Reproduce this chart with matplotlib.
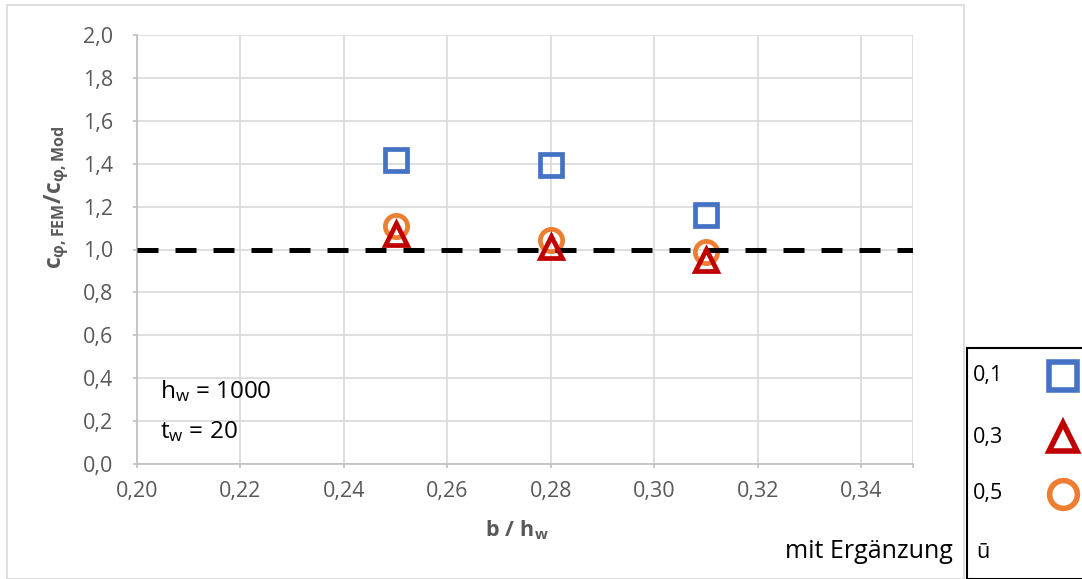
import matplotlib
matplotlib.use("Agg")
import matplotlib.pyplot as plt
from matplotlib.patches import Rectangle
from matplotlib.lines import Line2D

plt.rcParams['font.family'] = ['Open Sans', 'DejaVu Sans']
plt.rcParams['mathtext.fontset'] = 'custom'
plt.rcParams['mathtext.rm'] = 'Open Sans'
plt.rcParams['mathtext.bf'] = 'Open Sans:bold'
plt.rcParams['mathtext.it'] = 'Open Sans:italic'

# data
b_hw = [0.25, 0.28, 0.31]
u01 = [1.415, 1.393, 1.160]
u03 = [1.070, 1.012, 0.950]
u05 = [1.108, 1.045, 0.988]
legend_labels = ["0,1", "0,3", "0,5"]
xticks = [0.20, 0.22, 0.24, 0.26, 0.28, 0.30, 0.32, 0.34]
yticks = [0.0, 0.2, 0.4, 0.6, 0.8, 1.0, 1.2, 1.4, 1.6, 1.8, 2.0]

blue = '#4472C4'
red = '#C00000'
orange = '#ED7D31'
grey_txt = '#595959'

W, H = 1082, 579
fig = plt.figure(figsize=(W/100, H/100), dpi=100)

# outer chart border
fig.patches.append(Rectangle((7/W, 0), (964-7)/W, (H-5)/H, transform=fig.transFigure,
                             fill=False, edgecolor='#d9d9d9', linewidth=1.2))

ax = fig.add_axes([137/W, 1-464/H, (913-137)/W, (464-35)/H])
ax.set_xlim(0.20, 0.35)
ax.set_ylim(0.0, 2.0)
ax.set_xticks(xticks + [0.35])
ax.set_xticklabels([f"{v:.2f}".replace('.', ',') for v in xticks] + [''])
ax.set_yticks(yticks)
ax.set_yticklabels([f"{v:.1f}".replace('.', ',') for v in yticks])
ax.grid(True, color='#d9d9d9', linewidth=1.2)
ax.set_axisbelow(True)
for s in ['top', 'right']:
    ax.spines[s].set_visible(False)
for s in ['left', 'bottom']:
    ax.spines[s].set_color('#bfbfbf')
    ax.spines[s].set_linewidth(1.2)
ax.tick_params(axis='both', colors='#bfbfbf', labelcolor=grey_txt, labelsize=15.5,
               length=3, width=1.2)
ax.tick_params(axis='x', pad=9)
ax.tick_params(axis='y', pad=14)

fig.text(517/W, 1-530/H, r'$\mathbf{b\ /\ h_w}$', color=grey_txt, fontsize=15.5,
         ha='center', va='center')
fig.text(57/W, 1-197/H, r'$\mathbf{c_{\varphi,FEM}/c_{\varphi,Mod}}$', color=grey_txt, fontsize=16.5,
         rotation=90, ha='center', va='center')

ax.axhline(1.0, color='black', linewidth=3.6, linestyle=(0, (4.2, 3.4)), zorder=3)

ms = 16
mew = 3.4
ax.plot(b_hw, u01, linestyle='none', marker='s', ms=ms, mfc='none', mec=blue, mew=mew, zorder=4, clip_on=False)
ax.plot(b_hw, u05, linestyle='none', marker='o', ms=ms, mfc='none', mec=orange, mew=mew, zorder=2.5, clip_on=False)
ax.plot(b_hw, u03, linestyle='none', marker='^', ms=ms, mfc='none', mec=red, mew=mew, zorder=5, clip_on=False)

fig.text(160/W, 1-391/H, r'h$_\mathrm{w}$ = 1000', fontsize=17.5, color='black', va='center', ha='left')
fig.text(160/W, 1-432/H, r't$_\mathrm{w}$ = 20', fontsize=17.5, color='black', va='center', ha='left')

# legend box
fig.patches.append(Rectangle((967/W, 0), (W-967+5)/W, (H-348)/H, transform=fig.transFigure,
                             fill=False, edgecolor='black', linewidth=1.5, clip_on=False))
rows_y = [376, 437, 494]
styles = [('s', blue), ('^', red), ('o', orange)]
for lab, yy, (mk, col) in zip(legend_labels, rows_y, styles):
    fig.text(973/W, 1-yy/H, lab, fontsize=15.5, va='center', ha='left', color='black')
    fig.add_artist(Line2D([1063/W], [1-yy/H], transform=fig.transFigure, marker=mk, ms=20,
                          mfc='none', mec=col, mew=4, linestyle='none'))
fig.text(976/W, 1-553/H, 'ū', fontsize=15.5, va='center', ha='left', color='black')
fig.text(953/W, 1-551/H, 'mit Ergänzung', fontsize=18, va='center', ha='right', color='black')

fig.savefig('out.png', dpi=100)
